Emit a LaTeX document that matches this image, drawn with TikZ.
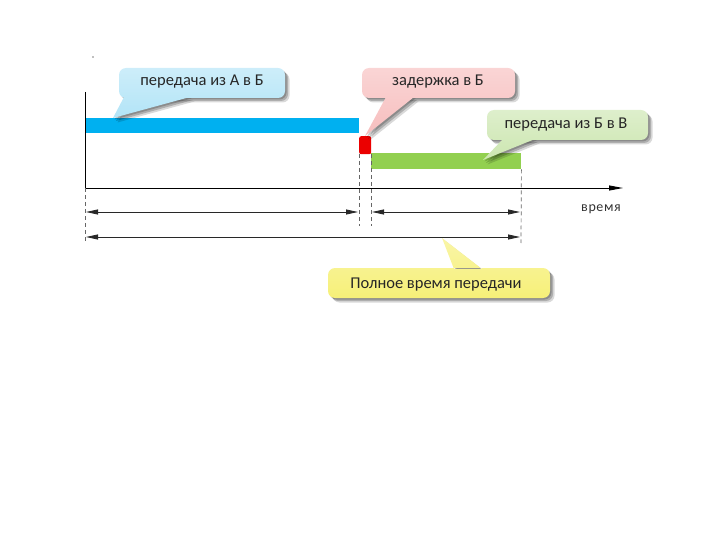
\documentclass[tikz,border=0pt]{standalone}
\usepackage{fontspec}
\setmainfont{Carlito}
\usetikzlibrary{arrows.meta,calc}
\definecolor{barblue}{RGB}{0,176,240}
\definecolor{bargreen}{RGB}{146,208,80}
\definecolor{barred}{RGB}{235,0,0}
\definecolor{calblue}{RGB}{178,228,247}
\definecolor{calpink}{RGB}{247,190,190}
\definecolor{calgreen}{RGB}{204,230,176}
\definecolor{calyellow}{RGB}{246,240,120}
\definecolor{dimgray}{RGB}{40,40,40}
\tikzset{
  barbox/.style={draw=none,inner sep=0pt,anchor=north west},
  dashline/.style={draw=gray!80!black,line width=0.7pt,dash pattern=on 4pt off 3pt},
  dimarrow/.style={draw=dimgray,line width=0.8pt,{Triangle[length=12pt,width=5pt]}-{Triangle[length=12pt,width=5pt]}},
  axisline/.style={draw=black,line width=0.9pt},
  caltext/.style={font=\fontsize{16.5}{18}\selectfont,text=black!85,inner sep=0pt},
  calshadow/.style={fill=black,draw=none}
}
\begin{document}
\begin{tikzpicture}[x=1pt,y=-1pt]
\useasboundingbox (0,0) rectangle (720,540);

% tiny mark
\fill[gray] (93,57) circle (0.8);

% bars
\node[barbox,fill=barblue,minimum width=274pt,minimum height=15pt] (ab) at (85,118) {};
\node[barbox,fill=barred,minimum width=12pt,minimum height=18pt,rounded corners=2pt] (delay) at (359,136) {};
\node[barbox,fill=bargreen,minimum width=150pt,minimum height=16pt] (bv) at (371,153) {};

% axes
\coordinate (O) at (85,188);
\coordinate (ytop) at (85,92);
\coordinate (xend) at (623,188);
\draw[axisline] (ytop) -- (O);
\draw[axisline,-{Triangle[length=14pt,width=5pt]}] (O) -- (xend);
\node[font=\fontsize{14}{16}\selectfont,text=black!80] (time) at (601,209) {в\kern0.6pt р\kern0.6pt е\kern0.6pt м\kern0.6pt я};

% dashed guides
\coordinate (d1b) at (85,243);
\coordinate (d2t) at (359,154);
\coordinate (d2b) at (359,226);
\coordinate (d3t) at (371,154);
\coordinate (d3b) at (371,226);
\coordinate (d4b) at (521,243);
\draw[dashline] (O) -- (d1b);
\draw[dashline] (d2t) -- (d2b);
\draw[dashline] (d3t) -- (d3b);
\draw[dashline] (bv.south east) -- (d4b);

% dimension arrows
\coordinate (a1l) at (86,212);
\coordinate (a1r) at (358,212);
\coordinate (a2l) at (372,212);
\coordinate (a2r) at (520,212);
\coordinate (a3l) at (86,237);
\coordinate (a3r) at (520,237);
\draw[dimarrow] (a1l) -- (a1r);
\draw[dimarrow] (a2l) -- (a2r);
\draw[dimarrow] (a3l) -- (a3r);

% callout 1 (blue)
\foreach \d/\o in {4.5/0.15,3/0.2,1.5/0.2}{
  \fill[calshadow,opacity=\o,rounded corners=7pt] ($(119,68)+(\d,\d)$) rectangle ($(285,98)+(\d,\d)$);
  \fill[calshadow,opacity=\o] ($(124,97)+(\d,\d)$) -- ($(113,118)+(\d,\d)$) -- ($(190,97)+(\d,\d)$) -- cycle;
}
\shade[top color=calblue!65!white,bottom color=calblue] (119,68) [rounded corners=7pt] rectangle (285,98) [sharp corners] (124,97) -- (113,118) -- (190,97) -- cycle;
\node[caltext] (c1) at (202,82) {передача из А в Б};

% callout 2 (pink)
\foreach \d/\o in {4.5/0.15,3/0.2,1.5/0.2}{
  \fill[calshadow,opacity=\o,rounded corners=7pt] ($(362,68)+(\d,\d)$) rectangle ($(515,98)+(\d,\d)$);
  \fill[calshadow,opacity=\o] ($(386,97)+(\d,\d)$) -- ($(365,136)+(\d,\d)$) -- ($(414,97)+(\d,\d)$) -- cycle;
}
\shade[top color=calpink!65!white,bottom color=calpink] (362,68) [rounded corners=7pt] rectangle (515,98) [sharp corners] (386,97) -- (365,136) -- (414,97) -- cycle;
\node[caltext] (c2) at (438,82) {задержка в Б};

% callout 3 (green)
\foreach \d/\o in {4.5/0.15,3/0.2,1.5/0.2}{
  \fill[calshadow,opacity=\o,rounded corners=7pt] ($(487,110)+(\d,\d)$) rectangle ($(648,140)+(\d,\d)$);
  \fill[calshadow,opacity=\o] ($(503,139)+(\d,\d)$) -- ($(483,160)+(\d,\d)$) -- ($(535,139)+(\d,\d)$) -- cycle;
}
\shade[top color=calgreen!65!white,bottom color=calgreen] (487,110) [rounded corners=7pt] rectangle (648,140) [sharp corners] (503,139) -- (483,160) -- (535,139) -- cycle;
\node[caltext] (c3) at (566,125) {передача из Б в В};

% callout 4 (yellow)
\foreach \d/\o in {4.5/0.15,3/0.2,1.5/0.2}{
  \fill[calshadow,opacity=\o,rounded corners=7pt] ($(328,268)+(\d,\d)$) rectangle ($(550,298)+(\d,\d)$);
  \fill[calshadow,opacity=\o] ($(454,269)+(\d,\d)$) -- ($(442,238)+(\d,\d)$) -- ($(482,269)+(\d,\d)$) -- cycle;
}
\shade[top color=calyellow!65!white,bottom color=calyellow] (328,268) [rounded corners=7pt] rectangle (550,298) [sharp corners] (454,269) -- (442,238) -- (482,269) -- cycle;
\node[caltext] (c4) at (436,285) {Полное время передачи};
\end{tikzpicture}
\end{document}
